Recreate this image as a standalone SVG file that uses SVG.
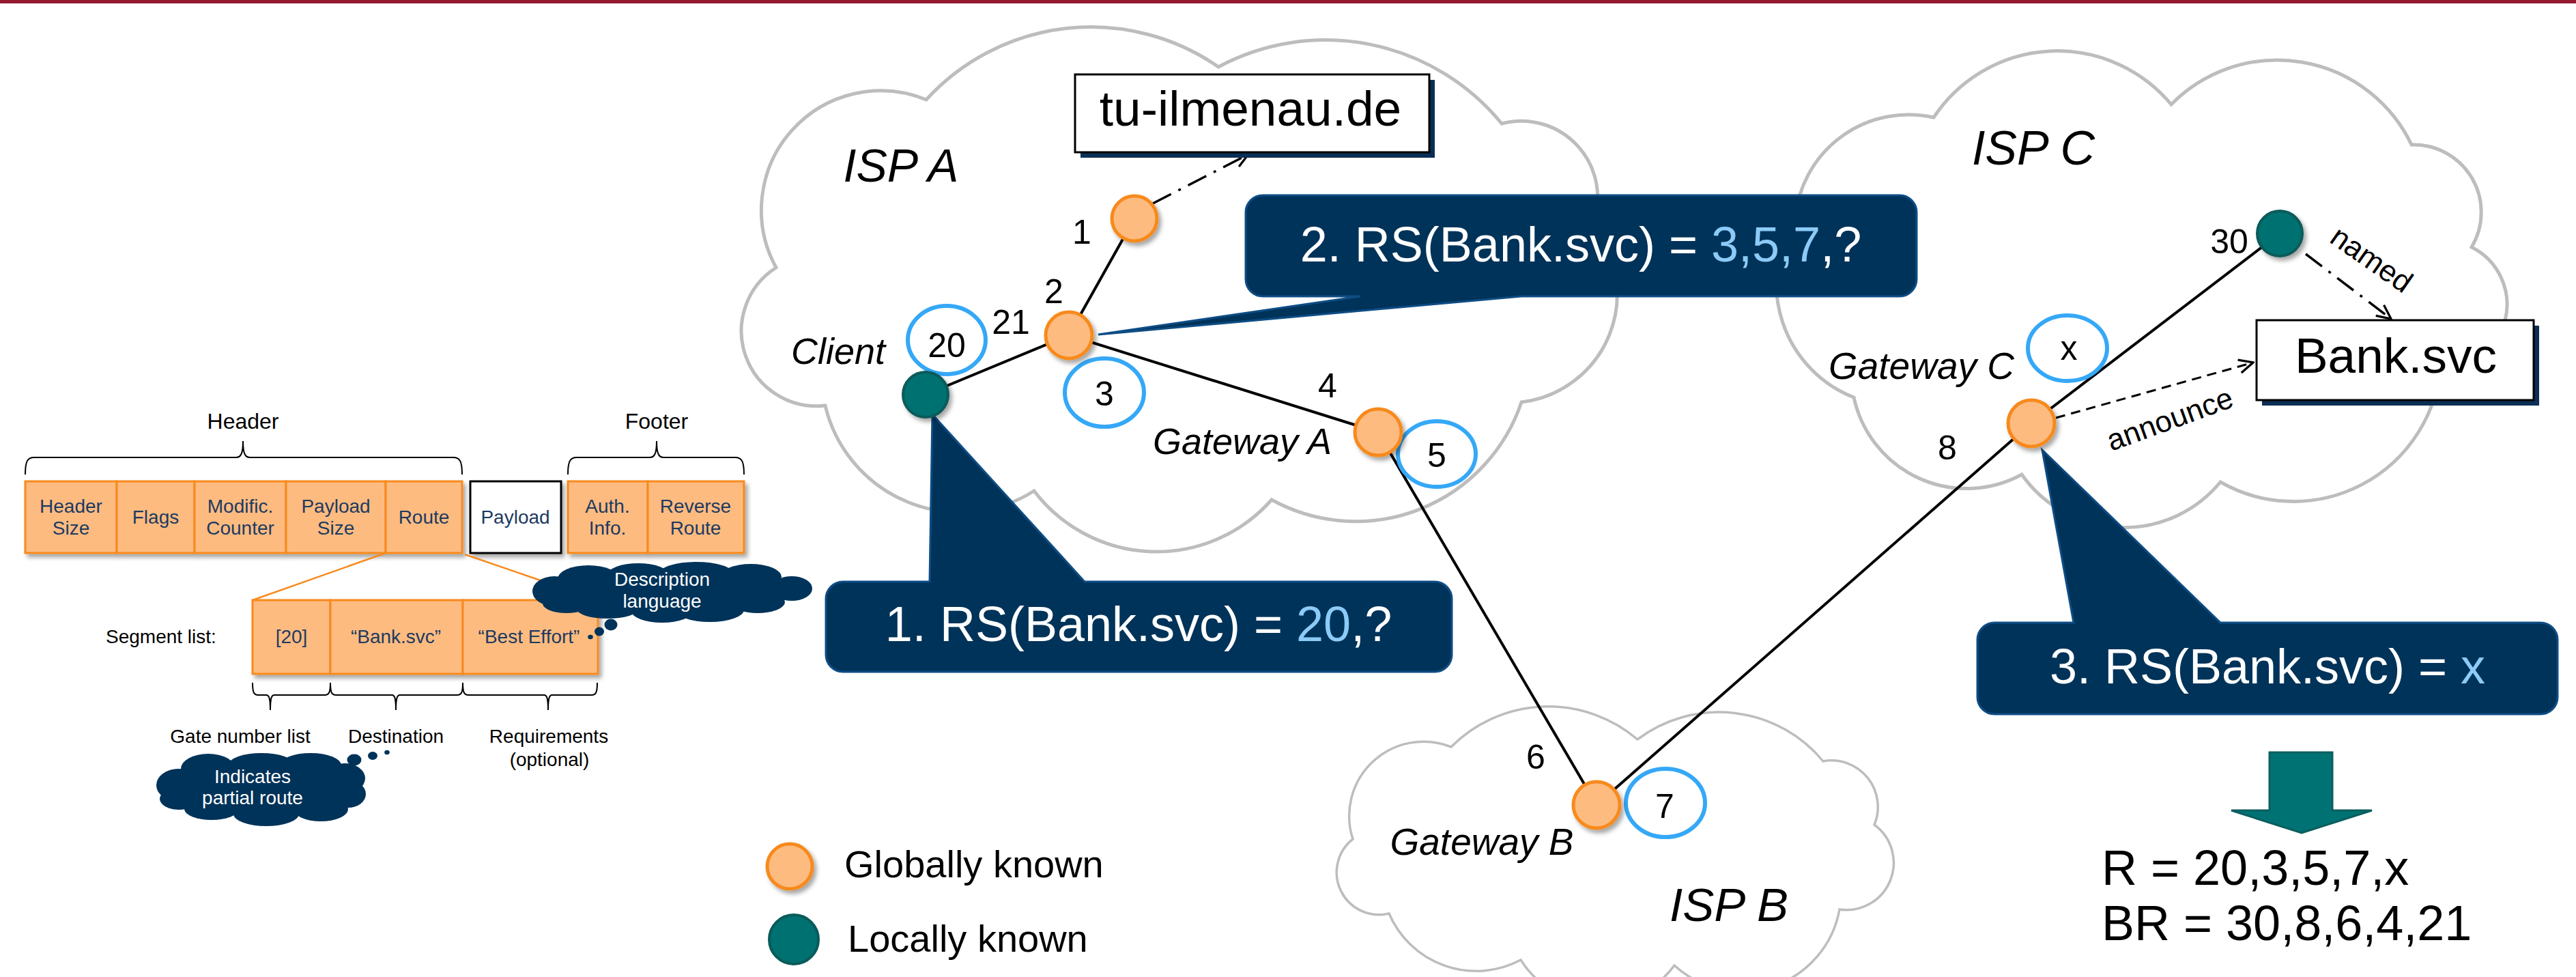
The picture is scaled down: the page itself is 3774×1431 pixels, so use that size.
<svg xmlns="http://www.w3.org/2000/svg" width="3774" height="1431" viewBox="0 0 3774 1431">
<defs>
<style>
text{font-family:"Liberation Sans",Arial,sans-serif;fill:#000}
.num{font-size:50px;text-anchor:middle}
.it{font-style:italic;text-anchor:middle}
.cloud{fill:#fff;stroke:#BDBDBD}
.on{fill:#FDBB80;stroke:#F78A1E;stroke-width:5}
.tn{fill:#007171;stroke:#0A5A5A;stroke-width:4}
.ring{fill:#fff;stroke:#35A8F7;stroke-width:6}
.link{stroke:#000;stroke-width:4;fill:none}
.callout{fill:#003359;stroke:#0E4D85;stroke-width:3}
.ct{fill:#fff;font-size:72px;text-anchor:middle}
.hl{fill:#8CCBF7}
.pk{fill:#FDBB80;stroke:#F78A1E;stroke-width:3}
.pt{fill:#1D3A60;font-size:28px;text-anchor:middle}
.lt{font-size:28px;text-anchor:middle}
.brace{fill:none;stroke:#000;stroke-width:2}
.bub{fill:#003359}
.bt{fill:#fff;font-size:28px;text-anchor:middle}
.dd{fill:none;stroke:#000;stroke-width:3.5;stroke-dasharray:30 12 4 12}
.da{fill:none;stroke:#000;stroke-width:3;stroke-dasharray:14 9}
.box{fill:#fff;stroke:#000;stroke-width:3}
.shadow{fill:#0B2F55}
.bigt{font-size:73px;text-anchor:middle}
</style>
<filter id="sh" x="-30%" y="-30%" width="160%" height="160%">
<feDropShadow dx="4" dy="5" stdDeviation="3" flood-color="#000" flood-opacity="0.35"/>
</filter>
<marker id="ah" viewBox="0 0 24 24" refX="22" refY="12" markerWidth="26" markerHeight="26" markerUnits="userSpaceOnUse" orient="auto">
<path d="M3,3 L22,12 L3,21" fill="none" stroke="#000" stroke-width="3"/>
</marker>
</defs>

<rect x="0" y="0" width="3774" height="1431" fill="#fff"/>
<rect x="0" y="0" width="3774" height="5" fill="#931A2E"/>

<!-- clouds -->
<g id="clouds">
<path id="ispA-cloud" class="cloud" stroke-width="5" d="M1357,146 A327,327 0 0 1 1785,98 A333,333 0 0 1 2200,181 A112,112 0 0 1 2333,330 A159,159 0 0 1 2229,589 A256,256 0 0 1 1863,732 A225,225 0 0 1 1515,719 A203,203 0 0 1 1209,594 A110,110 0 0 1 1137,392 A175,175 0 0 1 1357,146 Z"/>
<path id="ispC-cloud" class="cloud" stroke-width="5" d="M2833,172 A217,217 0 0 1 3181,153 A218,218 0 0 1 3533,212 A99,99 0 0 1 3621,362 A94,94 0 0 1 3575,540 A216,216 0 0 1 3253,706 A183,183 0 0 1 2962,695 A169,169 0 0 1 2716,582 A179,179 0 0 1 2630,320 A167,167 0 0 1 2833,172 Z"/>
<path id="ispB-cloud" class="cloud" stroke-width="3.5" d="M1982,1229 A109,109 0 0 1 2126,1094 A201,201 0 0 1 2399,1083 A198,198 0 0 1 2671,1115 A68,68 0 0 1 2746,1208 A69,69 0 0 1 2695,1332 A146,146 0 0 1 2453,1414 A136,136 0 0 1 2228,1406 A139,139 0 0 1 2035,1338 A62,62 0 0 1 1982,1229 Z"/>
</g>

<!-- packet format -->
<g id="packet">
<text x="356" y="628" font-size="32" text-anchor="middle">Header</text>
<text x="962" y="628" font-size="32" text-anchor="middle">Footer</text>
<path class="brace" d="M37,695 C37,676 40,670 50,670 L346,670 C353,670 356,664 356,646 C356,664 359,670 366,670 L664,670 C674,670 677,676 677,695"/>
<path class="brace" d="M832,695 C832,676 835,670 845,670 L952,670 C959,670 962,664 962,646 C962,664 965,670 972,670 L1077,670 C1087,670 1090,676 1090,695"/>
<g filter="url(#sh)">
<rect class="pk" x="37" y="705" width="134" height="105"/>
<rect class="pk" x="171" y="705" width="114" height="105"/>
<rect class="pk" x="285" y="705" width="134" height="105"/>
<rect class="pk" x="419" y="705" width="146" height="105"/>
<rect class="pk" x="565" y="705" width="112" height="105"/>
<rect x="689" y="705" width="133" height="105" fill="#fff" stroke="#000" stroke-width="3"/>
<rect class="pk" x="832" y="705" width="117" height="105"/>
<rect class="pk" x="949" y="705" width="141" height="105"/>
</g>
<text class="pt" x="104" y="751">Header</text><text class="pt" x="104" y="783">Size</text>
<text class="pt" x="228" y="767">Flags</text>
<text class="pt" x="352" y="751">Modific.</text><text class="pt" x="352" y="783">Counter</text>
<text class="pt" x="492" y="751">Payload</text><text class="pt" x="492" y="783">Size</text>
<text class="pt" x="621" y="767">Route</text>
<text class="pt" x="755" y="767">Payload</text>
<text class="pt" x="890" y="751">Auth.</text><text class="pt" x="890" y="783">Info.</text>
<text class="pt" x="1019" y="751">Reverse</text><text class="pt" x="1019" y="783">Route</text>

<line x1="565" y1="810" x2="370" y2="879" stroke="#F78A1E" stroke-width="2.5"/>
<line x1="681" y1="812" x2="876" y2="879" stroke="#F78A1E" stroke-width="2.5"/>

<text x="155" y="942" font-size="28">Segment list:</text>
<g filter="url(#sh)">
<rect class="pk" x="370" y="879" width="114" height="108" stroke-width="4"/>
<rect class="pk" x="484" y="879" width="194" height="108" stroke-width="4"/>
<rect class="pk" x="678" y="879" width="198" height="108" stroke-width="4"/>
</g>
<text class="pt" x="427" y="942">[20]</text>
<text class="pt" x="580" y="942">“Bank.svc”</text>
<text class="pt" x="775" y="942">“Best Effort”</text>

<path class="brace" d="M370,1000 C370,1014 372,1018 378,1018 L390,1018 C394,1018 396,1022 396,1040 C396,1022 398,1018 402,1018 L476,1018 C482,1018 484,1014 484,1000"/>
<path class="brace" d="M484,1000 C484,1014 486,1018 492,1018 L574,1018 C578,1018 580,1022 580,1040 C580,1022 582,1018 586,1018 L670,1018 C676,1018 678,1014 678,1000"/>
<path class="brace" d="M678,1000 C678,1014 680,1018 686,1018 L797,1018 C801,1018 803,1022 803,1040 C803,1022 805,1018 809,1018 L867,1018 C873,1018 875,1014 875,1000"/>
<text class="lt" x="352" y="1088">Gate number list</text>
<text class="lt" x="580" y="1088">Destination</text>
<text class="lt" x="804" y="1088">Requirements</text>
<text class="lt" x="805" y="1122">(optional)</text>
</g>

<g id="bubble-description">
<g class="bub">
<ellipse cx="812" cy="866" rx="32" ry="22"/>
<ellipse cx="862" cy="848" rx="45" ry="20"/>
<ellipse cx="935" cy="842" rx="45" ry="17"/>
<ellipse cx="1020" cy="841" rx="55" ry="18"/>
<ellipse cx="1100" cy="845" rx="45" ry="19"/>
<ellipse cx="1160" cy="862" rx="30" ry="18"/>
<ellipse cx="1110" cy="882" rx="40" ry="16"/>
<ellipse cx="1040" cy="893" rx="50" ry="18"/>
<ellipse cx="970" cy="895" rx="45" ry="17"/>
<ellipse cx="890" cy="892" rx="45" ry="14"/>
<ellipse cx="830" cy="884" rx="35" ry="14"/>
<ellipse cx="985" cy="866" rx="160" ry="30"/>
<ellipse cx="895" cy="915" rx="9.5" ry="8.5"/>
<ellipse cx="878" cy="925" rx="7" ry="6.5"/>
<ellipse cx="865" cy="933" rx="3.8" ry="3.2"/>
</g>
<text class="bt" x="970" y="858">Description</text>
<text class="bt" x="970" y="890">language</text>
</g>

<g id="bubble-partial">
<g class="bub">
<ellipse cx="262" cy="1150" rx="33" ry="24"/>
<ellipse cx="305" cy="1126" rx="40" ry="22"/>
<ellipse cx="383" cy="1120" rx="48" ry="17"/>
<ellipse cx="455" cy="1121" rx="45" ry="18"/>
<ellipse cx="505" cy="1140" rx="30" ry="22"/>
<ellipse cx="510" cy="1163" rx="26" ry="20"/>
<ellipse cx="470" cy="1185" rx="40" ry="18"/>
<ellipse cx="390" cy="1192" rx="48" ry="18"/>
<ellipse cx="310" cy="1185" rx="40" ry="16"/>
<ellipse cx="262" cy="1170" rx="28" ry="16"/>
<ellipse cx="385" cy="1156" rx="130" ry="36"/>
<ellipse cx="519" cy="1113" rx="10.5" ry="8.5"/>
<ellipse cx="546" cy="1107" rx="7" ry="6"/>
<ellipse cx="567" cy="1102" rx="3.8" ry="3.2"/>
</g>
<text class="bt" x="370" y="1147">Indicates</text>
<text class="bt" x="370" y="1178">partial route</text>
</g>

<!-- connectors -->
<g id="connectors">
<line class="link" x1="1356" y1="578" x2="1566" y2="491"/>
<line class="link" x1="1566" y1="491" x2="1662" y2="320"/>
<line class="link" x1="1566" y1="491" x2="2019" y2="633"/>
<line class="link" x1="2019" y1="633" x2="2339" y2="1179"/>
<line class="link" x1="2339" y1="1179" x2="2976" y2="620"/>
<line class="link" x1="2976" y1="620" x2="3340" y2="342"/>
<path class="dd" d="M1689,298 L1829,226" marker-end="url(#ah)"/>
<path class="dd" d="M3378,372 L3503,467" marker-end="url(#ah)"/>
<path class="da" d="M3012,612 L3301,531" marker-end="url(#ah)"/>
</g>

<!-- gate number rings -->
<g id="rings">
<g id="ring-20"><ellipse class="ring" cx="1387" cy="498" rx="57" ry="50"/><text class="num" x="1387" y="523">20</text></g>
<g id="ring-3"><ellipse class="ring" cx="1618" cy="575" rx="58" ry="50"/><text class="num" x="1618" y="594">3</text></g>
<g id="ring-5"><ellipse class="ring" cx="2105" cy="665" rx="57" ry="48"/><text class="num" x="2105" y="684">5</text></g>
<g id="ring-7"><ellipse class="ring" cx="2440" cy="1176" rx="58" ry="50"/><text class="num" x="2439" y="1198">7</text></g>
<g id="ring-x"><ellipse class="ring" cx="3029" cy="510" rx="58" ry="48"/><text class="num" x="3031" y="527">x</text></g>
</g>

<!-- callouts -->
<g id="callout-1">
<path class="callout" d="M1235,852 L1362,852 L1366,607 L1589,852 L2102,852 A25,25 0 0 1 2127,877 L2127,959 A25,25 0 0 1 2102,984 L1235,984 A25,25 0 0 1 1210,959 L1210,877 A25,25 0 0 1 1235,852 Z"/>
<text class="ct" x="1668" y="939">1. RS(Bank.svc) = <tspan class="hl">20</tspan>,?</text>
</g>
<g id="callout-2">
<path class="callout" d="M1850,286 L2783,286 A25,25 0 0 1 2808,311 L2808,409 A25,25 0 0 1 2783,434 L2229,434 L1609,490 L1993,434 L1850,434 A25,25 0 0 1 1825,409 L1825,311 A25,25 0 0 1 1850,286 Z"/>
<text class="ct" x="2316" y="383">2. RS(Bank.svc) = <tspan class="hl">3,5,7</tspan>,?</text>
</g>
<g id="callout-3">
<path class="callout" d="M2922,912 L3038,912 L2992,659 L3253,912 L3722,912 A25,25 0 0 1 3747,937 L3747,1021 A25,25 0 0 1 3722,1046 L2922,1046 A25,25 0 0 1 2897,1021 L2897,937 A25,25 0 0 1 2922,912 Z"/>
<text class="ct" x="3322" y="1001">3. RS(Bank.svc) = <tspan class="hl">x</tspan></text>
</g>

<!-- nodes -->
<g id="node-top" filter="url(#sh)"><circle class="on" cx="1662" cy="320" r="33"/></g>
<g id="node-junction" filter="url(#sh)"><circle class="on" cx="1566" cy="491" r="34"/></g>
<g id="node-client" filter="url(#sh)"><circle class="tn" cx="1356" cy="578" r="33"/></g>
<g id="node-gateway-a" filter="url(#sh)"><circle class="on" cx="2019" cy="633" r="34"/></g>
<g id="node-gateway-b" filter="url(#sh)"><circle class="on" cx="2339" cy="1179" r="34"/></g>
<g id="node-gateway-c" filter="url(#sh)"><circle class="on" cx="2976" cy="620" r="34"/></g>
<g id="node-30" filter="url(#sh)"><circle class="tn" cx="3340" cy="342" r="33"/></g>

<!-- labels -->
<g id="labels">
<text class="it" x="1320" y="266" font-size="68">ISP A</text>
<text class="it" x="2979" y="241" font-size="70">ISP C</text>
<text class="it" x="2533" y="1349" font-size="69">ISP B</text>
<text class="it" x="1228" y="533" font-size="54">Client</text>
<text class="it" x="1820" y="665" font-size="54">Gateway A</text>
<text class="it" x="2171" y="1252" font-size="55">Gateway B</text>
<text class="it" x="2815" y="555" font-size="55">Gateway C</text>
<text class="num" x="1585" y="357">1</text>
<text class="num" x="1544" y="444">2</text>
<text class="num" x="1481" y="489">21</text>
<text class="num" x="1945" y="582">4</text>
<text class="num" x="2250" y="1126">6</text>
<text class="num" x="2853" y="673">8</text>
<text class="num" x="3266" y="371">30</text>
<text font-size="44" text-anchor="middle" transform="translate(3466,392) rotate(35)">named</text>
<text font-size="44" text-anchor="middle" transform="translate(3184,628) rotate(-20)">announce</text>
</g>

<!-- name boxes -->
<g id="box-tu-ilmenau">
<rect class="shadow" x="1583" y="117" width="519" height="114"/>
<rect class="box" x="1575" y="109" width="519" height="114"/>
<text class="bigt" x="1832" y="184" font-size="72">tu-ilmenau.de</text>
</g>
<g id="box-bank">
<rect class="shadow" x="3314" y="477" width="406" height="117"/>
<rect class="box" x="3306" y="469" width="406" height="117"/>
<text class="bigt" x="3510" y="546">Bank.svc</text>
</g>

<!-- result -->
<g id="result">
<path d="M3325,1102 L3417,1102 L3417,1187 L3475,1187 L3372,1220 L3269,1187 L3325,1187 Z" fill="#007273" stroke="#0B5E5F" stroke-width="3"/>
<text x="3079" y="1296" font-size="72">R = 20,3,5,7,x</text>
<text x="3079" y="1377" font-size="72">BR = 30,8,6,4,21</text>
</g>

<!-- legend -->
<g id="legend">
<circle class="on" cx="1157" cy="1269" r="33" filter="url(#sh)"/>
<text x="1237" y="1285" font-size="56">Globally known</text>
<circle class="tn" cx="1163" cy="1376" r="36"/>
<text x="1242" y="1394" font-size="56">Locally known</text>
</g>
</svg>
